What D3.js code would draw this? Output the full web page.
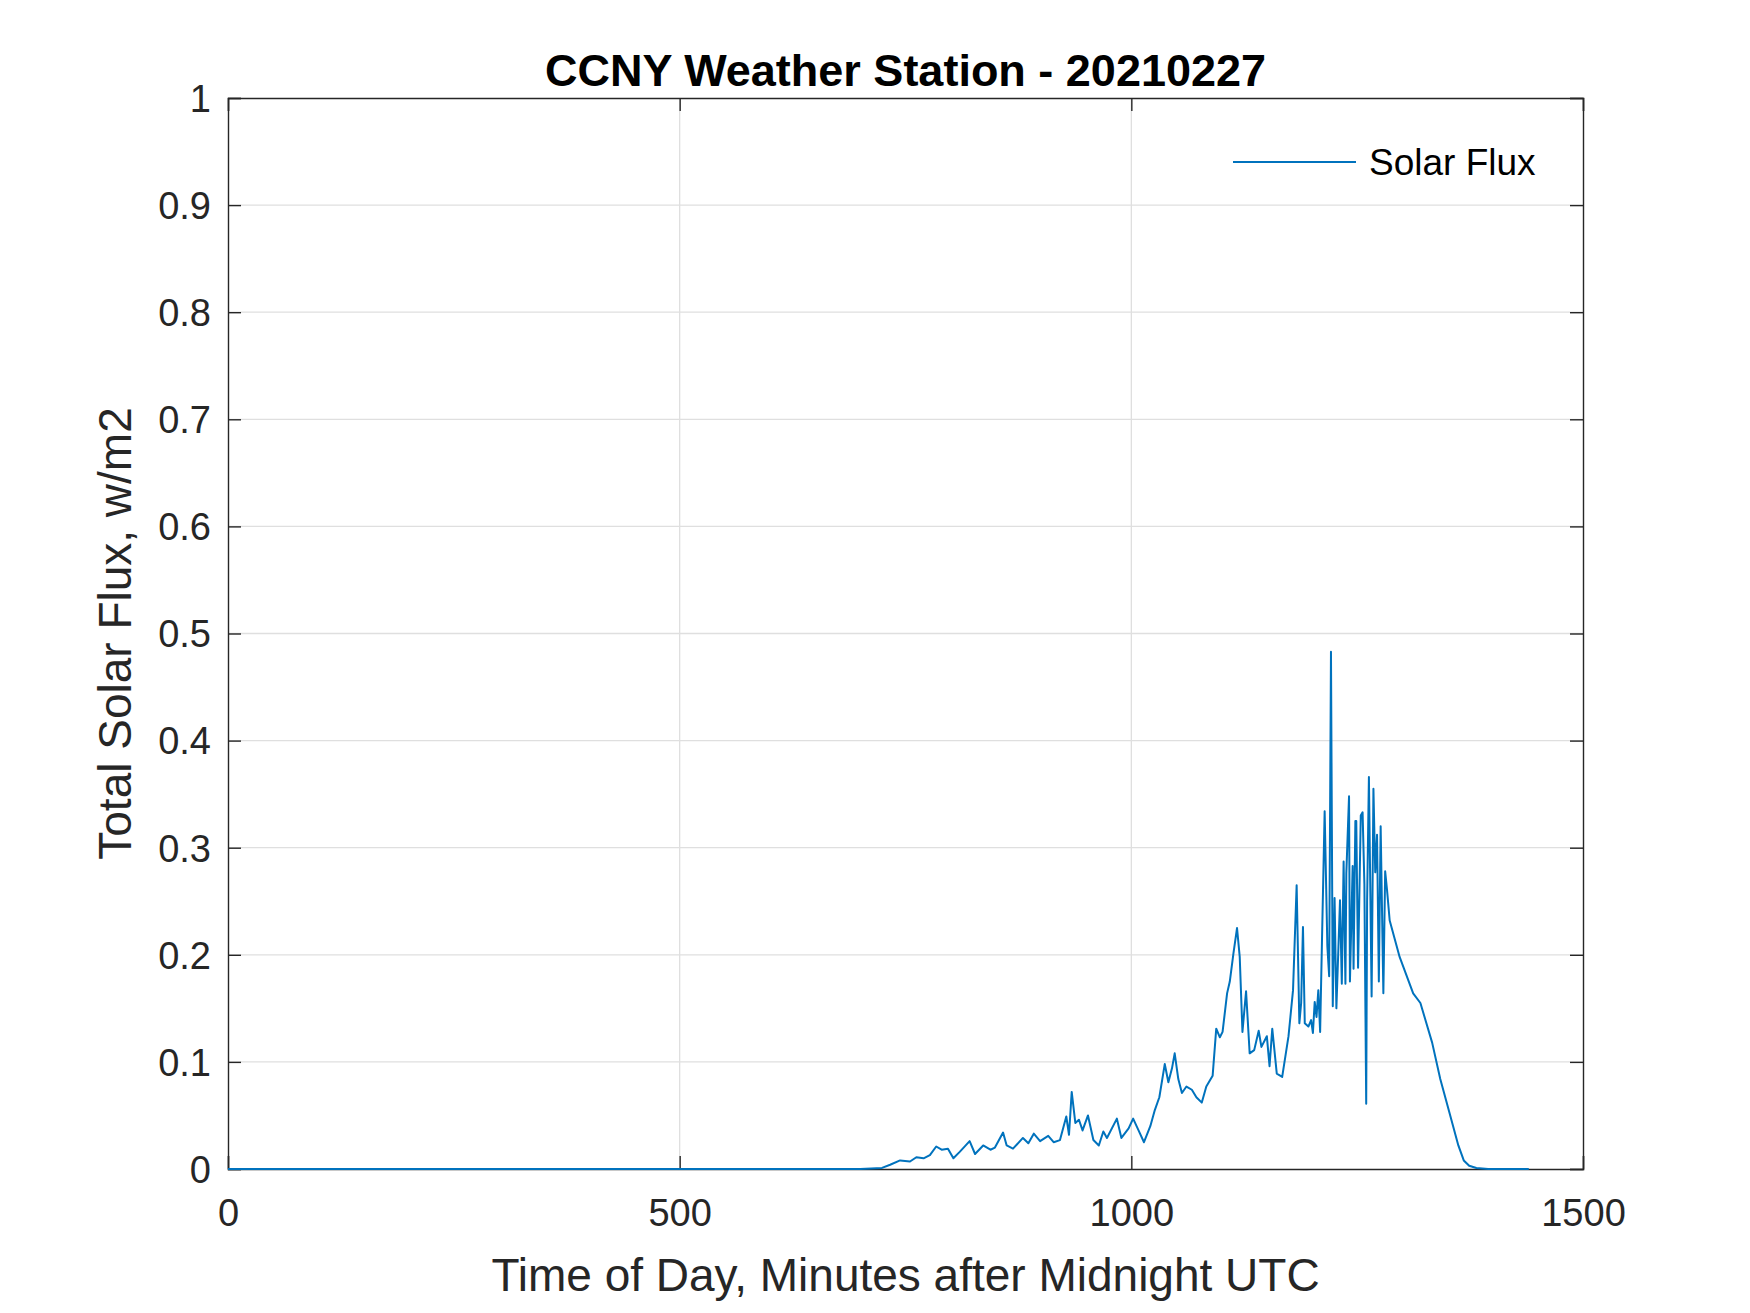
<!DOCTYPE html>
<html>
<head>
<meta charset="utf-8">
<script src="https://cdn.jsdelivr.net/npm/d3@7"></script>
<style>
  body { margin: 0; background: #fff; }
  svg { display: block; }
  text { font-family: "Liberation Sans", Arial, Helvetica, sans-serif; }
</style>
</head>
<body>
<div class="chart"></div>
<script>
// minutes after midnight UTC
var minutes = [0, 700, 724, 733, 744, 755, 762, 770, 777, 784, 790, 797, 803, 810, 821, 827, 836, 844, 849, 858,
  862, 869, 880, 886, 892, 899, 908, 914, 921, 928, 931, 934, 938, 942, 946, 952, 958, 964, 969, 973,
  984, 989, 997, 1002, 1008, 1014, 1021, 1026, 1031, 1037, 1041, 1045, 1048, 1052, 1056, 1061, 1067, 1072, 1078, 1083,
  1090, 1094, 1098, 1101, 1106, 1109, 1113, 1117, 1120, 1123, 1127, 1131, 1136, 1141, 1144, 1150, 1153, 1156, 1161, 1167,
  1174, 1179, 1183, 1186, 1188, 1190, 1192, 1196, 1199, 1201, 1203, 1205, 1207, 1209, 1211, 1214, 1217, 1219, 1221, 1223,
  1225, 1227, 1231, 1233, 1235, 1237, 1238, 1241, 1242, 1245, 1246, 1248, 1249, 1251, 1254, 1256, 1258, 1260, 1261, 1263,
  1266, 1268, 1270, 1272, 1274, 1276, 1279, 1281, 1283, 1286, 1297, 1312, 1320, 1333, 1342, 1353, 1362, 1368, 1374, 1382,
  1395, 1440];

// total solar flux, w/m2
var flux = [0, 0, 0.001, 0.004, 0.008, 0.007, 0.011, 0.010, 0.013, 0.021, 0.018, 0.019, 0.010, 0.016, 0.026, 0.014, 0.022, 0.018, 0.020, 0.034,
  0.022, 0.019, 0.029, 0.024, 0.033, 0.026, 0.031, 0.025, 0.027, 0.049, 0.032, 0.072, 0.043, 0.046, 0.036, 0.050, 0.027, 0.022, 0.035, 0.029,
  0.047, 0.029, 0.038, 0.047, 0.036, 0.025, 0.040, 0.055, 0.067, 0.098, 0.081, 0.094, 0.108, 0.084, 0.071, 0.077, 0.074, 0.067, 0.062, 0.077,
  0.087, 0.131, 0.123, 0.128, 0.164, 0.175, 0.201, 0.225, 0.198, 0.128, 0.166, 0.108, 0.111, 0.129, 0.114, 0.124, 0.096, 0.131, 0.089, 0.086,
  0.124, 0.167, 0.265, 0.136, 0.155, 0.226, 0.136, 0.133, 0.139, 0.127, 0.156, 0.142, 0.167, 0.128, 0.211, 0.334, 0.208, 0.180, 0.483, 0.152,
  0.253, 0.150, 0.251, 0.173, 0.287, 0.173, 0.276, 0.348, 0.175, 0.283, 0.187, 0.325, 0.325, 0.188, 0.330, 0.333, 0.266, 0.061, 0.250, 0.366,
  0.161, 0.355, 0.277, 0.312, 0.175, 0.320, 0.164, 0.278, 0.261, 0.232, 0.198, 0.164, 0.155, 0.118, 0.084, 0.050, 0.022, 0.008, 0.003, 0.001,
  0, 0];

var xTicks = [0, 500, 1000, 1500];
var yTicks = [0, 0.1, 0.2, 0.3, 0.4, 0.5, 0.6, 0.7, 0.8, 0.9, 1];

var titleText = "CCNY Weather Station - 20210227";
var xLabel = "Time of Day, Minutes after Midnight UTC";
var yLabel = "Total Solar Flux, w/m2";
var seriesName = "Solar Flux";

var W = 1750, H = 1313;
var margin = {top: 98, right: 167, bottom: 144, left: 228};
var w = W - margin.left - margin.right;
var h = H - margin.top - margin.bottom;
var axisColor = "#262626";
var lineColor = "#0072bd";

var svg = d3.select("div.chart")
            .append("svg")
            .attr("width", W)
            .attr("height", H);

var g = svg.append("g")
           .attr("transform", "translate(" + margin.left + "," + margin.top + ")");

var x = d3.scaleLinear().domain([0, 1500]).range([0, w]);
var y = d3.scaleLinear().domain([0, 1]).range([h, 0]);

//grid
g.selectAll(".xgrid")
  .data(xTicks.slice(1, -1))
  .enter()
  .append("line")
    .attr("x1", d => x(d)).attr("x2", d => x(d))
    .attr("y1", 0).attr("y2", h)
    .attr("stroke", "#dfdfdf")
    .attr("stroke-width", 1.3);

g.selectAll(".ygrid")
  .data(yTicks.slice(1, -1))
  .enter()
  .append("line")
    .attr("x1", 0).attr("x2", w)
    .attr("y1", d => y(d)).attr("y2", d => y(d))
    .attr("stroke", "#dfdfdf")
    .attr("stroke-width", 1.3);

//axes, ticks pointing inwards on all four sides
var tickLen = 13;
var fmt = d => d3.format("")(+d.toFixed(1));

var xBottom = g.append("g")
  .attr("transform", "translate(0," + h + ")")
  .call(d3.axisBottom(x).tickValues(xTicks).tickSize(-tickLen).tickPadding(30).tickFormat(fmt));
var xTop = g.append("g")
  .call(d3.axisTop(x).tickValues(xTicks).tickSize(-tickLen).tickFormat(""));
var yLeft = g.append("g")
  .call(d3.axisLeft(y).tickValues(yTicks).tickSize(-tickLen).tickPadding(17).tickFormat(fmt));
var yRight = g.append("g")
  .attr("transform", "translate(" + w + ",0)")
  .call(d3.axisRight(y).tickValues(yTicks).tickSize(-tickLen).tickFormat(""));

[xBottom, xTop, yLeft, yRight].forEach(function(a){
  a.select(".domain").attr("stroke", axisColor).attr("stroke-width", 1.4);
  a.selectAll(".tick line").attr("stroke", axisColor).attr("stroke-width", 1.4);
  a.selectAll(".tick text")
    .attr("fill", axisColor)
    .style("font-size", "38px")
    .style("font-family", "'Liberation Sans', Arial, sans-serif");
});
xBottom.selectAll(".tick text").attr("dy", "0.71em");
yLeft.selectAll(".tick text").attr("dy", "0.35em");

//data line
var line = d3.line()
  .x((d, i) => x(minutes[i]))
  .y(d => y(d));

g.append("path")
  .datum(flux)
  .attr("fill", "none")
  .attr("stroke", lineColor)
  .attr("stroke-width", 2)
  .attr("stroke-linejoin", "round")
  .attr("d", line);

//labels
svg.append("text")
  .attr("x", margin.left + w / 2)
  .attr("y", 86)
  .attr("text-anchor", "middle")
  .attr("font-weight", "bold")
  .attr("font-size", 45)
  .attr("fill", "#000")
  .text(titleText);

svg.append("text")
  .attr("x", margin.left + w / 2)
  .attr("y", 1291)
  .attr("text-anchor", "middle")
  .attr("font-size", 46)
  .attr("fill", axisColor)
  .text(xLabel);

svg.append("text")
  .attr("transform", "translate(131," + (margin.top + h / 2) + ") rotate(-90)")
  .attr("text-anchor", "middle")
  .attr("font-size", 46)
  .attr("fill", axisColor)
  .text(yLabel);

//legend
var legend = svg.append("g").attr("transform", "translate(1233,162)");
legend.append("line")
  .attr("x1", 0).attr("x2", 123)
  .attr("y1", 0).attr("y2", 0)
  .attr("stroke", lineColor)
  .attr("stroke-width", 2);
legend.append("text")
  .attr("x", 136)
  .attr("y", 0)
  .attr("dy", "0.35em")
  .attr("font-size", 37)
  .attr("fill", "#000")
  .text(seriesName);
</script>
</body>
</html>
